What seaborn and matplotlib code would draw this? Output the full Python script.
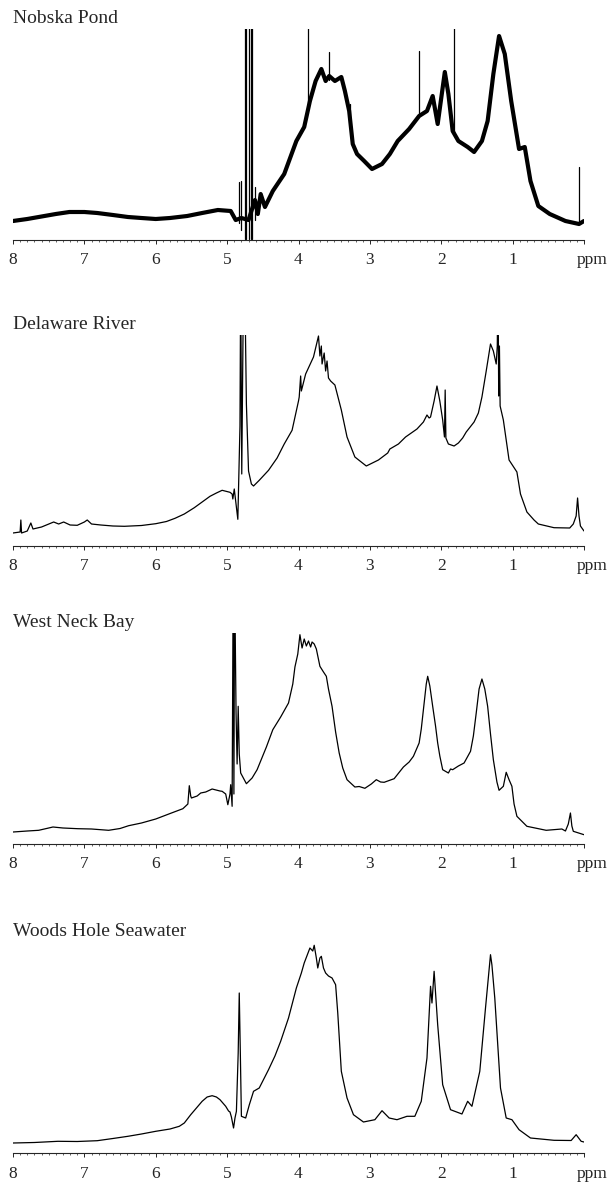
import numpy as np
import pandas as pd
import matplotlib.pyplot as plt
from matplotlib.ticker import MultipleLocator, FixedLocator, FixedFormatter
import seaborn as sns

# chemical shift (ppm) and signal height (arbitrary units, ~px above axis)
nobska_ppm = [8.00, 7.80, 7.64, 7.40, 7.21, 7.00, 6.82, 6.60, 6.39, 6.20,
              6.00, 5.80, 5.56, 5.35, 5.13, 4.95, 4.88, 4.80, 4.70, 4.61,
              4.57, 4.53, 4.47, 4.36, 4.20, 4.03, 3.92, 3.84, 3.76, 3.68,
              3.62, 3.57, 3.49, 3.40, 3.35, 3.29, 3.24, 3.18, 3.08, 2.97,
              2.83, 2.72, 2.61, 2.45, 2.31, 2.20, 2.12, 2.05, 1.95, 1.90,
              1.84, 1.76, 1.63, 1.54, 1.43, 1.35, 1.27, 1.19, 1.11, 1.02,
              0.91, 0.83, 0.75, 0.64, 0.48, 0.26, 0.07, 0.00]
nobska_int = [19, 21, 23, 26, 28, 28, 27, 25, 23, 22,
              21, 22, 24, 27, 30, 29, 20, 22, 20, 40,
              26, 46, 33, 49, 66, 99, 113, 139, 159, 171,
              159, 164, 159, 163, 149, 129, 96, 86, 79, 71,
              76, 86, 99, 111, 124, 129, 144, 116, 168, 146,
              109, 99, 93, 88, 99, 119, 166, 204, 186, 139,
              91, 93, 59, 34, 26, 19, 16, 19]
# sharp lines in the noisy spectrum (water and small molecules)
nobska_spike_ppm = [4.84, 4.80, 4.745, 4.73, 4.695, 4.665, 4.645, 4.61, 3.86, 3.57, 3.28, 2.31, 1.82, 0.07]
nobska_spike_lo = [17, 10, 1, 1, 1, 1, 1, 20, 135, 160, 120, 124, 105, 17]
nobska_spike_hi = [58, 59, 260, 260, 260, 260, 260, 53, 260, 188, 136, 189, 260, 73]

delaware_ppm = [8.00, 7.90, 7.89, 7.88, 7.80, 7.75, 7.72, 7.60, 7.43, 7.36,
                7.29, 7.20, 7.10, 7.00, 6.96, 6.90, 6.77, 6.60, 6.44, 6.20,
                6.00, 5.85, 5.73, 5.60, 5.46, 5.35, 5.24, 5.15, 5.07, 4.96,
                4.93, 4.92, 4.90, 4.85, 4.82, 4.81, 4.795, 4.77, 4.75, 4.73,
                4.70, 4.66, 4.63, 4.55, 4.42, 4.30, 4.20, 4.09, 4.00, 3.99,
                3.97, 3.96, 3.90, 3.79, 3.72, 3.70, 3.68, 3.67, 3.64, 3.62,
                3.60, 3.58, 3.55, 3.49, 3.40, 3.32, 3.21, 3.05, 2.88, 2.75,
                2.72, 2.60, 2.50, 2.42, 2.34, 2.25, 2.20, 2.17, 2.15, 2.10,
                2.06, 2.02, 1.98, 1.955, 1.945, 1.935, 1.90, 1.82, 1.76, 1.70,
                1.65, 1.54, 1.48, 1.43, 1.37, 1.31, 1.27, 1.23, 1.215, 1.205,
                1.195, 1.185, 1.175, 1.13, 1.05, 0.94, 0.89, 0.80, 0.70, 0.64,
                0.42, 0.20, 0.15, 0.11, 0.09, 0.07, 0.05, 0.00]
delaware_int = [13, 14, 26, 13, 15, 23, 17, 19, 24, 22,
                24, 21, 20.7, 24, 26, 22, 21, 20, 19.7, 20.5,
                22.3, 24.5, 27.7, 32, 38.3, 44, 49.7, 53, 55.7, 53.7,
                52, 47, 57, 26.7, 120, 270, 72, 270, 250, 142,
                75, 62, 60, 65.7, 75.7, 88, 102, 115.7, 145, 149,
                170, 155, 172, 189, 210, 190, 200, 182, 193, 175,
                185, 168, 165, 161, 136, 109, 89, 80, 86, 93,
                97, 102, 109, 113, 117, 124, 131, 128, 129, 145,
                160, 145, 126, 109, 156, 108, 102, 100, 103, 108,
                114, 124, 133, 149, 175, 202, 195, 182, 200, 270,
                150, 200, 140, 126, 86, 74, 52, 34, 26, 22,
                18.3, 18, 22, 30, 48, 30, 20, 15]

westneck_ppm = [8.00, 7.80, 7.64, 7.50, 7.44, 7.30, 7.09, 6.90, 6.66, 6.50,
                6.38, 6.20, 6.00, 5.78, 5.62, 5.55, 5.53, 5.51, 5.50, 5.42,
                5.37, 5.30, 5.21, 5.10, 5.07, 5.02, 4.99, 4.96, 4.95, 4.93,
                4.915, 4.905, 4.895, 4.875, 4.86, 4.845, 4.83, 4.81, 4.73, 4.65,
                4.58, 4.45, 4.36, 4.25, 4.14, 4.08, 4.05, 4.01, 3.98, 3.95,
                3.92, 3.89, 3.86, 3.83, 3.81, 3.78, 3.75, 3.70, 3.65, 3.61,
                3.58, 3.53, 3.48, 3.43, 3.38, 3.32, 3.21, 3.15, 3.07, 2.98,
                2.91, 2.85, 2.80, 2.66, 2.53, 2.45, 2.39, 2.31, 2.28, 2.25,
                2.21, 2.19, 2.16, 2.12, 2.08, 2.05, 2.02, 1.98, 1.90, 1.87,
                1.84, 1.76, 1.68, 1.59, 1.55, 1.51, 1.47, 1.43, 1.39, 1.35,
                1.31, 1.27, 1.22, 1.19, 1.13, 1.09, 1.05, 1.01, 0.98, 0.94,
                0.80, 0.53, 0.31, 0.26, 0.22, 0.19, 0.17, 0.15, 0.00]
westneck_int = [12, 13, 13.7, 16, 17, 16, 15.3, 15, 13.7, 15.5,
                18.3, 21, 25, 31, 35.3, 40, 58.3, 48, 46, 48,
                51, 52, 55, 53, 52.7, 50, 39.3, 50, 59.3, 37.7,
                270, 50, 270, 131, 80, 137.7, 90, 71, 60.3, 66,
                74.3, 97, 114.3, 127, 141, 160, 177, 190, 209.3, 196,
                205, 198, 203, 197, 202, 200, 195, 177.7, 172, 167.7,
                155, 137.7, 112, 91, 76, 64.3, 57, 57.5, 55.7, 60,
                64.3, 62, 61.7, 65.3, 77, 82, 87.7, 101, 115, 134.3,
                160, 167.7, 158, 137.7, 118, 101, 88, 74.3, 71, 75,
                74.3, 78, 81, 92.7, 108, 131, 155, 165, 155, 137.7,
                110, 84.3, 62, 53.7, 57.7, 71.7, 64.3, 57.7, 40, 27.7,
                17.7, 13.7, 15, 13, 20, 31, 18, 12.7, 9.3]

woods_ppm = [8.00, 7.70, 7.37, 7.10, 6.82, 6.60, 6.39, 6.20, 6.00, 5.80,
             5.67, 5.60, 5.51, 5.43, 5.35, 5.28, 5.21, 5.15, 5.10, 5.02,
             4.98, 4.96, 4.94, 4.91, 4.89, 4.87, 4.845, 4.83, 4.815, 4.80,
             4.74, 4.69, 4.63, 4.55, 4.42, 4.33, 4.25, 4.14, 4.03, 3.96,
             3.92, 3.84, 3.80, 3.78, 3.75, 3.73, 3.70, 3.68, 3.65, 3.62,
             3.58, 3.53, 3.48, 3.45, 3.40, 3.32, 3.23, 3.09, 2.93, 2.83,
             2.73, 2.62, 2.48, 2.37, 2.28, 2.20, 2.15, 2.13, 2.10, 2.05,
             1.98, 1.87, 1.71, 1.63, 1.57, 1.46, 1.38, 1.31, 1.29, 1.25,
             1.17, 1.09, 1.01, 0.91, 0.75, 0.42, 0.18, 0.11, 0.04, 0.00]
woods_int = [10, 10.5, 11.7, 11.5, 12.3, 14.5, 16.7, 19, 21.7, 24,
             26.7, 30, 38.3, 45, 51.7, 56, 57.3, 56, 53.3, 46.7,
             42, 41, 36, 25, 35, 41.7, 100, 160, 100, 36.7,
             35, 48, 61.7, 65, 83.3, 97, 111.7, 135, 165, 180,
             190, 205, 202, 207.7, 195, 185, 195, 196.7, 185, 180,
             177, 175, 168.3, 140, 81.7, 55, 38.3, 31, 33.3, 42.3,
             35, 33.3, 36.7, 36.7, 51.7, 95, 166.7, 150, 181.7, 128.3,
             68.3, 43.3, 39, 51.7, 46.7, 81.7, 145, 198.3, 188, 155,
             65, 35, 33.3, 23.3, 15, 12.7, 12.5, 18.3, 11.7, 11]

titles = ["Nobska Pond", "Delaware River", "West Neck Bay", "Woods Hole Seawater"]
spectra = [(nobska_ppm, nobska_int), (delaware_ppm, delaware_int),
           (westneck_ppm, westneck_int), (woods_ppm, woods_int)]
tick_labels = ["", "1", "2", "3", "4", "5", "6", "7", "8"]

sns.set_style("white")
plt.rcParams["font.family"] = ["Liberation Serif", "DejaVu Serif"]

W, H = 611, 1185
fig = plt.figure(figsize=(W / 100, H / 100), dpi=100)

axis_rows = [240, 546, 844, 1153]   # pixel row of each x axis
x0, x1 = 13, 584
panel_h = 211

for i, (title, (ppm, inten)) in enumerate(zip(titles, spectra)):
    ax = fig.add_axes([x0 / W, 1 - axis_rows[i] / H, (x1 - x0) / W, panel_h / H])
    lw = 3.0 if i == 0 else 0.9
    sns.lineplot(x=ppm, y=inten, ax=ax, sort=False, estimator=None,
                 color="black", lw=lw, solid_joinstyle="round")
    if i == 0:
        sp = pd.DataFrame({
            "ppm": nobska_spike_ppm + nobska_spike_ppm,
            "h": nobska_spike_lo + nobska_spike_hi,
            "id": list(range(len(nobska_spike_ppm))) * 2,
        })
        sns.lineplot(data=sp, x="ppm", y="h", units="id", estimator=None,
                     ax=ax, color="black", lw=0.9)
    ax.set_xlim(8, 0)
    ax.set_ylim(0, panel_h)
    for s in ["left", "right", "top"]:
        ax.spines[s].set_visible(False)
    ax.spines["bottom"].set_linewidth(0.8)
    ax.set_yticks([])
    ax.set_xlabel("")
    ax.set_ylabel("")
    ax.xaxis.set_major_locator(FixedLocator(list(range(0, 9))))
    ax.xaxis.set_major_formatter(FixedFormatter(tick_labels))
    ax.xaxis.set_minor_locator(MultipleLocator(0.1))
    ax.tick_params(axis="x", which="major", direction="out", length=3, width=0.7,
                   pad=6, labelsize=12.5, bottom=True)
    ax.tick_params(axis="x", which="minor", direction="out", length=1.6, width=0.5,
                   bottom=True)
    ax.annotate("ppm", xy=(-0.11, 0), xycoords=("data", "axes fraction"),
                xytext=(0, -9), textcoords="offset points", ha="center", va="top",
                fontsize=12.5, annotation_clip=False)
    ax.text(0, 1.05, title, transform=ax.transAxes, ha="left", va="center",
            fontsize=14)

fig.savefig("out.png", dpi=100)
